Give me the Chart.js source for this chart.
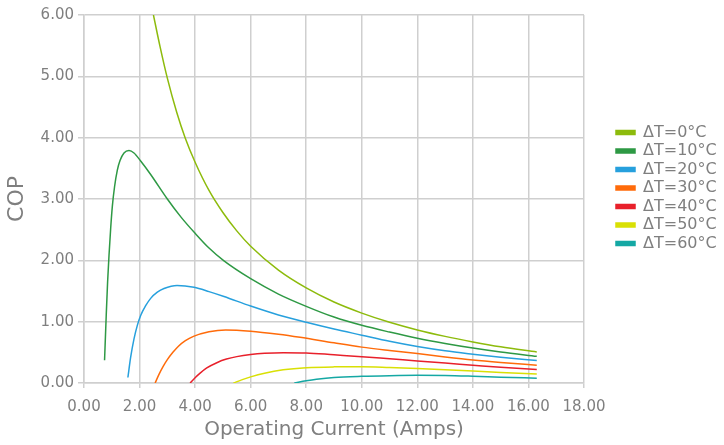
<!DOCTYPE html>
<html>
<head>
<meta charset="utf-8">
<script src="https://cdn.jsdelivr.net/npm/chart.js@4.4.1/dist/chart.umd.min.js"></script>
<style>
  html, body { margin: 0; padding: 0; background: #fff; }
  #wrap { width: 724px; height: 445px; }
</style>
</head>
<body>
<div id="wrap"><canvas id="copChart"></canvas></div>
<script>
// Values (current in A, COP)
const labels = ['ΔT=0°C', 'ΔT=10°C', 'ΔT=20°C', 'ΔT=30°C', 'ΔT=40°C', 'ΔT=50°C', 'ΔT=60°C'];
const colors = ['#8dbb0c', '#2e9944', '#27a0dd', '#ff6b0a', '#e8202b', '#d9e005', '#15a8a4'];

const cur0 = [2.5, 2.74, 3.0, 3.34, 3.64, 4.0, 4.5, 5.0, 5.5, 6.0, 7.0, 8.0, 9.0, 10.0, 11.0, 12.0, 13.0, 14.0, 15.0, 16.3];
const cop0 = [6.0, 5.48, 4.97, 4.41, 4.0, 3.6, 3.14, 2.78, 2.48, 2.23, 1.84, 1.55, 1.32, 1.14, 0.99, 0.865, 0.76, 0.67, 0.59, 0.505];

const cur10 = [0.74, 0.8, 0.85, 0.9, 0.96, 1.02, 1.1, 1.2, 1.3, 1.44, 1.62, 1.8, 2.04, 2.4, 3.0, 3.5, 4.0, 4.5, 5.04, 6.0, 7.0, 8.0, 9.0, 10.0, 11.0, 12.0, 13.0, 14.0, 15.0, 16.3];
const cop10 = [0.37, 1.1, 1.65, 2.08, 2.52, 2.88, 3.2, 3.47, 3.63, 3.75, 3.79, 3.75, 3.62, 3.4, 3.0, 2.7, 2.44, 2.2, 1.99, 1.7, 1.45, 1.25, 1.075, 0.94, 0.83, 0.73, 0.645, 0.57, 0.505, 0.435];

const cur20 = [1.58, 1.68, 1.8, 1.92, 2.04, 2.22, 2.4, 2.64, 2.88, 3.35, 3.96, 4.5, 5.04, 6.0, 7.0, 8.0, 9.0, 10.0, 11.0, 12.0, 13.0, 14.0, 15.0, 16.3];
const cop20 = [0.09, 0.42, 0.72, 0.94, 1.1, 1.26, 1.38, 1.48, 1.54, 1.59, 1.56, 1.49, 1.41, 1.255, 1.11, 0.99, 0.88, 0.78, 0.68, 0.595, 0.525, 0.47, 0.42, 0.365];

const cur30 = [2.56, 2.7, 2.85, 3.0, 3.2, 3.4, 3.65, 3.94, 4.5, 5.1, 6.0, 7.0, 7.78, 9.0, 10.0, 11.0, 12.0, 13.0, 14.0, 15.0, 16.3];
const cop30 = [0.0, 0.14, 0.27, 0.38, 0.5, 0.6, 0.69, 0.76, 0.835, 0.865, 0.845, 0.795, 0.745, 0.655, 0.585, 0.53, 0.48, 0.425, 0.375, 0.335, 0.29];

const cur40 = [3.82, 4.0, 4.18, 4.42, 4.8, 5.13, 5.5, 6.0, 6.5, 7.18, 8.0, 9.0, 10.0, 11.0, 12.0, 13.0, 14.0, 15.0, 16.3];
const cop40 = [0.0, 0.085, 0.16, 0.245, 0.335, 0.39, 0.43, 0.465, 0.485, 0.495, 0.49, 0.46, 0.43, 0.395, 0.36, 0.325, 0.29, 0.255, 0.22];

const cur50 = [5.38, 5.7, 6.0, 6.5, 7.17, 8.0, 9.0, 10.0, 11.0, 12.0, 13.0, 14.0, 15.0, 16.3];
const cop50 = [0.0, 0.055, 0.1, 0.16, 0.215, 0.25, 0.263, 0.265, 0.253, 0.237, 0.218, 0.197, 0.173, 0.145];

const cur60 = [7.57, 8.0, 8.37, 9.0, 10.0, 11.0, 12.0, 13.0, 14.0, 15.0, 16.3];
const cop60 = [0.0, 0.035, 0.06, 0.09, 0.11, 0.12, 0.125, 0.122, 0.11, 0.095, 0.078];

const currents = [cur0, cur10, cur20, cur30, cur40, cur50, cur60];
const cops = [cop0, cop10, cop20, cop30, cop40, cop50, cop60];

const gridColor = '#cfcfcf';
const textColor = '#7f7f7f';

Chart.defaults.font.family = "'DejaVu Sans', sans-serif";

// keep the legend at a fixed width and move it where the reference has it
const legendPlace = {
    id: 'legendPlace',
    beforeLayout(chart) {
        const lg = chart.legend;
        if (lg && !lg._fixed) {
            const fit = lg.fit;
            lg.fit = function () { fit.call(this); this.width = 140; };
            lg._fixed = true;
        }
    },
    afterLayout(chart) {
        const lg = chart.legend;
        lg.left = 613.5;
        lg.right = 724;
        lg.top = 122;
        lg.bottom = lg.top + 140;
    }
};

const ctx = document.getElementById('copChart').getContext('2d');
const copChart = new Chart(ctx, {
    type: 'line',
    data: {
        datasets: labels.map((label, i) => ({
            label: label,
            data: currents[i].map((c, j) => ({ x: c, y: cops[i][j] })),
            borderColor: colors[i],
            backgroundColor: colors[i],
            borderWidth: 1.5,
            pointRadius: 0,
            cubicInterpolationMode: 'monotone',
            fill: false
        }))
    },
    options: {
        responsive: true,
        maintainAspectRatio: false,
        animation: false,
        layout: { padding: { top: 15, left: 0, right: 0, bottom: 0 } },
        scales: {
            x: {
                type: 'linear',
                min: 0,
                max: 18,
                afterFit(scale) { scale.height = 62; },
                ticks: {
                    stepSize: 2,
                    color: textColor,
                    font: { size: 15 },
                    padding: 10,
                    maxRotation: 0,
                    callback: v => v.toFixed(2)
                },
                grid: { color: gridColor, lineWidth: 1.5, tickLength: 5 },
                border: { color: gridColor, width: 1.5 },
                title: {
                    display: true,
                    text: 'Operating Current (Amps)',
                    color: textColor,
                    font: { size: 20 },
                    padding: { top: 4, bottom: 3 }
                }
            },
            y: {
                min: 0,
                max: 6,
                afterFit(scale) { scale.width = 84; },
                ticks: {
                    stepSize: 1,
                    color: textColor,
                    font: { size: 15 },
                    padding: 4,
                    callback: v => v.toFixed(2)
                },
                grid: { color: gridColor, lineWidth: 1.5, tickLength: 6 },
                border: { color: gridColor, width: 1.5 },
                title: {
                    display: true,
                    text: 'COP',
                    color: textColor,
                    font: { size: 22 },
                    padding: { top: 4, bottom: 4 }
                }
            }
        },
        plugins: {
            legend: {
                position: 'right',
                align: 'start',
                labels: {
                    boxWidth: 19,
                    boxHeight: 4,
                    padding: 2.5,
                    color: textColor,
                    font: { size: 16 }
                }
            },
            tooltip: { enabled: false }
        }
    },
    plugins: [legendPlace]
});
</script>
</body>
</html>
